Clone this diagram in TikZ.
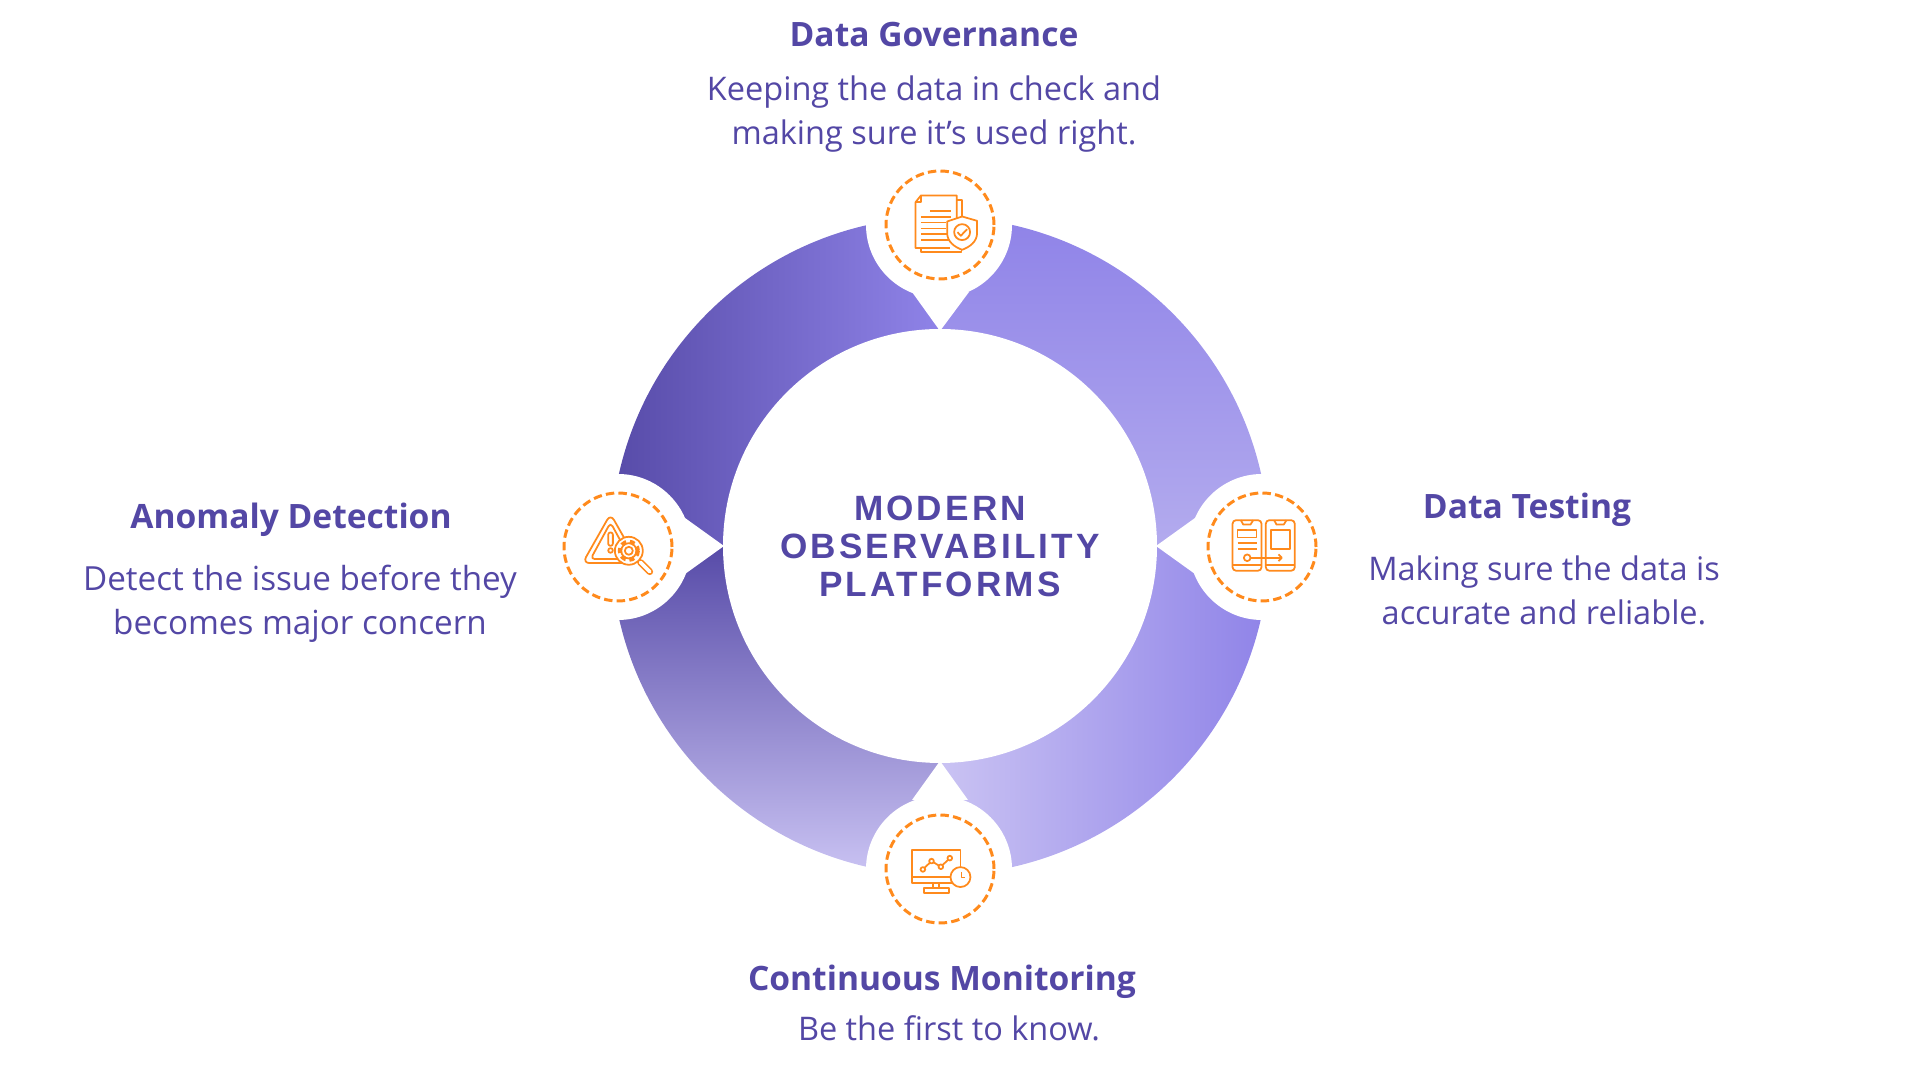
\documentclass[tikz,border=0pt]{standalone}
\usepackage{fontspec}
\usetikzlibrary{arrows.meta, shapes.geometric}
\setmainfont{Open Sans}
\newfontfamily\titlefont[LetterSpace=9]{Liberation Sans}
\definecolor{Indigo}{HTML}{5347A5}
\definecolor{Dark_Ring}{HTML}{574BA8}
\definecolor{Mid_Ring}{HTML}{8F83E8}
\definecolor{Pale_Ring}{HTML}{B3ABEE}
\definecolor{Soft_Ring}{HTML}{CAC3F3}
\definecolor{Amber}{HTML}{FF8A1C}
\tikzset{
    heading/.style={Indigo, align=center, font=\fontsize{9.55}{12}\selectfont\bfseries},
    blurb/.style={Indigo, align=center, font=\fontsize{9.25}{12.5}\selectfont},
    badge/.style={circle, draw=Amber, line width=0.85pt, dash pattern=on 2.4pt off 1.2pt, minimum size=1.08cm, inner sep=0pt},
    notch/.style={fill=white},
    icon/.style={x=0.00333cm, y=-0.00333cm, draw=Amber, line width=0.5pt, line join=round}
}

\begin{document}
\begin{tikzpicture}
    \useasboundingbox (0,0) rectangle (19.2,10.8);

    % Ring quadrants
    \path[left color=Dark_Ring, right color=Mid_Ring] (9.4,8.63) arc (90:180:3.29) -- (9.4,5.34) -- cycle;
    \path[top color=Mid_Ring, bottom color=Pale_Ring] (9.4,8.63) arc (90:0:3.29) -- (9.4,5.34) -- cycle;
    \path[left color=Soft_Ring, right color=Mid_Ring] (12.69,5.34) arc (0:-90:3.29) -- (9.4,5.34) -- cycle;
    \path[top color=Dark_Ring, bottom color=Soft_Ring] (6.11,5.34) arc (180:270:3.29) -- (9.4,5.34) -- cycle;

    % Centre disc
    \fill[white] (9.4,5.34) circle (2.17);

    % White pockets with their points
    \fill[notch] (9.39,8.55) circle (0.73);
    \fill[notch] (9.12,7.88) -- (9.40,7.49) -- (9.69,7.88) -- cycle;
    \fill[notch] (12.62,5.33) circle (0.73);
    \fill[notch] (11.95,5.62) -- (11.56,5.34) -- (11.95,5.06) -- cycle;
    \fill[notch] (9.39,2.11) circle (0.73);
    \fill[notch] (9.12,2.80) -- (9.40,3.19) -- (9.68,2.80) -- cycle;
    \fill[notch] (6.18,5.33) circle (0.73);
    \fill[notch] (6.85,5.62) -- (7.24,5.34) -- (6.85,5.06) -- cycle;

    % Dashed badges
    \node[badge] (governance) at (9.40,8.55) {};
    \node[badge] (testing) at (12.62,5.33) {};
    \node[badge] (monitoring) at (9.40,2.11) {};
    \node[badge] (anomaly) at (6.18,5.33) {};

    % Centre title
    \node[Indigo, align=center, font=\fontsize{10}{10.8}\selectfont\titlefont\bfseries] (platforms) at (9.40,5.34) {MODERN\\OBSERVABILITY\\PLATFORMS};

    % Labels
    \node[heading] (governance title) at (9.34,10.45) {Data Governance};
    \node[blurb] (governance text) at (9.34,9.66) {Keeping the data in check and\\making sure it’s used right.};
    \node[heading] (testing title) at (15.27,5.705) {Data Testing};
    \node[blurb] (testing text) at (15.44,4.895) {Making sure the data is\\accurate and reliable.};
    \node[heading] (monitoring title) at (9.42,0.985) {Continuous Monitoring};
    \node[blurb] (monitoring text) at (9.49,0.52) {Be the first to know.};
    \node[heading] (anomaly title) at (2.91,5.60) {Anomaly Detection};
    \node[blurb, font=\fontsize{9.45}{12.5}\selectfont] (anomaly text) at (3.00,4.76) {Detect the issue before they\\becomes major concern};

    % Document and shield icon
    \begin{scope}[shift={(8.6,9.3)}, icon]
        \draw (291,207) -- (291,137) -- (183,137) -- (167,157) -- (167,295) -- (270,295);
        \draw (167,157) -- (183,157) -- (183,137);
        \draw (291,150) -- (307,150) -- (307,205);
        \draw (183,295) -- (183,307) -- (305,307) -- (305,297);
        \draw (210,183) -- (275,183);
        \draw (183,201) -- (275,201);
        \draw (183,218) -- (258,218);
        \draw (183,236) -- (260,236);
        \draw (183,253) -- (265,253);
        \draw (183,271) -- (275,271);
        \filldraw[fill=white] (262,215) -- (307,200) -- (352,213) -- (352,250) .. controls (352,275) and (330,292) .. (307,300) .. controls (284,292) and (262,275) .. (262,250) -- cycle;
        \draw (307,247) circle (24);
        \draw (293,247) -- (303,258) -- (322,238);
    \end{scope}

    % Phones icon
    \begin{scope}[shift={(11.8,6.2)}, icon]
        \draw[rounded corners=1pt] (158,181) rectangle (245,333);
        \draw (183,181) -- (190,194) -- (212,194) -- (220,181);
        \draw (158,315) -- (245,315);
        \draw (173,210) rectangle (230,233);
        \draw (173,249) -- (230,249);
        \draw (173,267) -- (230,267);
        \draw (202,294) circle (10);
        \draw[rounded corners=1pt] (258,181) rectangle (345,333);
        \draw (283,181) -- (290,194) -- (312,194) -- (320,181);
        \draw (258,315) -- (345,315);
        \draw (273,210) rectangle (330,267);
        \draw (212,294) -- (305,294);
        \draw (296,284) -- (306,294) -- (296,304);
    \end{scope}

    % Monitor icon
    \begin{scope}[shift={(8.6,3.2)}, icon]
        \draw (302,330) -- (302,270) -- (157,270) -- (157,370) -- (280,370);
        \draw (157,352) -- (275,352);
        \draw (220,370) -- (220,385);
        \draw (238,370) -- (238,385);
        \draw (192,385) rectangle (268,399);
        \draw (189,329) -- (215,304) -- (243,321) -- (270,295);
        \filldraw[fill=white] (189,329) circle (7);
        \filldraw[fill=white] (215,304) circle (7);
        \filldraw[fill=white] (243,321) circle (7);
        \filldraw[fill=white] (270,295) circle (7);
        \filldraw[fill=white] (302,352) circle (30);
        \draw (305,338) -- (305,353) -- (316,353);
    \end{scope}

    % Warning and magnifier icon
    \begin{scope}[shift={(5.5,6.2)}, icon]
        \draw[rounded corners=2pt] (182,162) -- (98,310) -- (266,310) -- cycle;
        \draw[rounded corners=1.2pt] (182,188) -- (122,298) -- (242,298) -- cycle;
        \draw[rounded corners=0.6pt] (175,218) rectangle (189,258);
        \draw (182,272) circle (7);
        \draw[line width=1.9pt, line cap=round] (272,308) -- (300,336);
        \draw[white, line width=1pt, line cap=round] (272,308) -- (300,336);
        \filldraw[fill=white] (237,273) circle (42);
        \draw (237,273) circle (12);
        \draw[line width=1.2pt, dash pattern=on 1.4pt off 1.05pt] (237,273) circle (27);
        \draw (237,273) circle (23);
    \end{scope}
\end{tikzpicture}
\end{document}
